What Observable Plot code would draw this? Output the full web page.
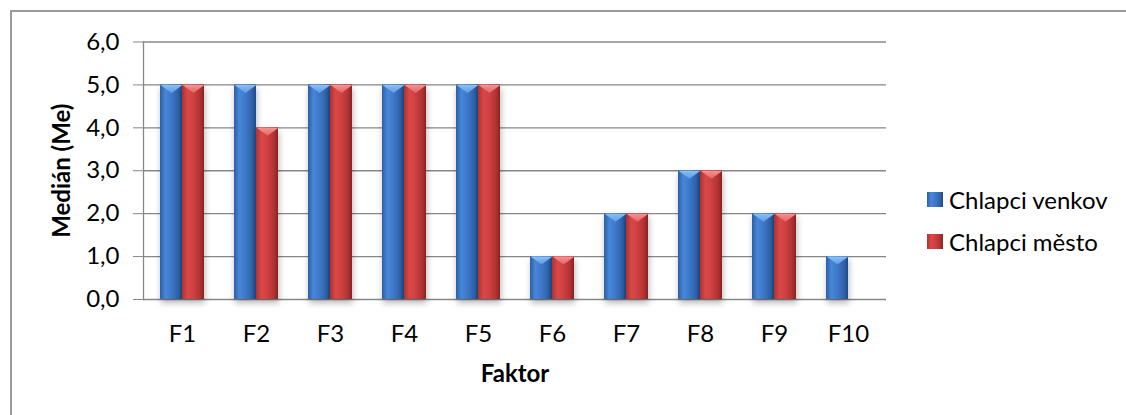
<!DOCTYPE html>
<html>
<head>
<meta charset="utf-8">
<script src="https://cdn.jsdelivr.net/npm/d3@7"></script>
<script src="https://cdn.jsdelivr.net/npm/@observablehq/plot@0.6"></script>
<style>
  html, body { margin: 0; padding: 0; background: #fff; overflow: hidden; }
  #wrap { position: relative; width: 1126px; height: 415px; font-family: Lato, "Open Sans", sans-serif; }
  #border { position: absolute; left: 10px; top: 10px; width: 1200px; height: 500px;
            border: 2px solid #9b9b9b; box-sizing: border-box; }
  #chart { position: absolute; left: 0; top: 0; }
  .key { position: absolute; left: 927px; display: flex; align-items: center;
         font-size: 24px; color: #000; white-space: nowrap; }
  .key svg { margin-right: 6px; }
</style>
</head>
<body>
<!-- shared gradients for bars, caps and legend swatches -->
<svg width="0" height="0" style="position:absolute">
  <defs>
    <linearGradient id="gBlue" x1="0" y1="0" x2="1" y2="0">
      <stop offset="0" stop-color="#2c5fa3"/>
      <stop offset="0.25" stop-color="#4786d8"/>
      <stop offset="0.5" stop-color="#3e79c9"/>
      <stop offset="0.82" stop-color="#2f63aa"/>
      <stop offset="1" stop-color="#1f4a85"/>
    </linearGradient>
    <linearGradient id="gRed" x1="0" y1="0" x2="1" y2="0">
      <stop offset="0" stop-color="#ad3131"/>
      <stop offset="0.25" stop-color="#d94848"/>
      <stop offset="0.5" stop-color="#cf4141"/>
      <stop offset="0.82" stop-color="#b13232"/>
      <stop offset="1" stop-color="#862323"/>
    </linearGradient>
    <linearGradient id="cBlue" x1="0" y1="0" x2="0" y2="1">
      <stop offset="0" stop-color="#8cc0f5"/>
      <stop offset="1" stop-color="#5d9be6"/>
    </linearGradient>
    <linearGradient id="cRed" x1="0" y1="0" x2="0" y2="1">
      <stop offset="0" stop-color="#f59393"/>
      <stop offset="1" stop-color="#e36262"/>
    </linearGradient>
  </defs>
</svg>
<div id="wrap">
  <div id="border"></div>
  <div id="chart"></div>
</div>
<script>
// Median score per factor, rural vs. urban boys
const factors = ["F1", "F2", "F3", "F4", "F5", "F6", "F7", "F8", "F9", "F10"];
const venkov  = [5, 5, 5, 5, 5, 1, 2, 3, 2, 1];
const mesto   = [5, 4, 5, 5, 5, 1, 2, 3, 2, null];
const series  = ["Chlapci venkov", "Chlapci město"];
const yTicks  = [0, 1, 2, 3, 4, 5, 6];

const rural = factors.map((f, i) => ({faktor: f, median: venkov[i]})).filter(d => d.median != null);
const urban = factors.map((f, i) => ({faktor: f, median: mesto[i]})).filter(d => d.median != null);

const comma = d => d.toFixed(1).replace(".", ",");

// flat downward wedge drawn at the top of each bar
const cap = {
  draw(ctx) {
    ctx.moveTo(-11, 0);
    ctx.lineTo(11, 0);
    ctx.lineTo(0, 8);
    ctx.closePath();
  }
};

const shadow = "drop-shadow(1px 4px 3px rgba(0,0,0,0.28))";

const chart = Plot.plot({
  width: 1126,
  height: 415,
  marginLeft: 143,
  marginRight: 240,
  marginTop: 41.5,
  marginBottom: 116,
  style: {fontFamily: "Lato, 'Open Sans', sans-serif", fontSize: "24px", color: "#000", background: "transparent"},
  x: {domain: factors, paddingInner: 0.408, paddingOuter: 0.204},
  y: {domain: [0, 6]},
  marks: [
    Plot.ruleY(yTicks, {stroke: "#878787", strokeWidth: 1.3}),
    Plot.frame({anchor: "left", stroke: "#878787", strokeWidth: 1.3}),
    Plot.axisY({ticks: yTicks, tickSize: 10, tickPadding: 14, tickFormat: comma, stroke: "#878787", label: null}),
    Plot.axisX({tickSize: 0, tickPadding: 25, label: null}),
    Plot.barY(rural, {x: "faktor", y: "median", insetLeft: 0, insetRight: 22, fill: "url(#gBlue)", imageFilter: shadow}),
    Plot.barY(urban, {x: "faktor", y: "median", insetLeft: 22, insetRight: 0, fill: "url(#gRed)", imageFilter: shadow}),
    Plot.dot(rural, {x: "faktor", y: "median", dx: -11, symbol: cap, r: 1, fill: "url(#cBlue)", stroke: "none"}),
    Plot.dot(urban, {x: "faktor", y: "median", dx: 11, symbol: cap, r: 1, fill: "url(#cRed)", stroke: "none"}),
    Plot.text(["Faktor"], {frameAnchor: "bottom", dy: 75, textAnchor: "middle", lineAnchor: "middle", fontWeight: "bold", fontSize: 24, fill: "#000"}),
    Plot.text(["Medián (Me)"], {frameAnchor: "left", dx: -81, rotate: -90, textAnchor: "middle", lineAnchor: "middle", fontWeight: "bold", fontSize: 24, fill: "#000"})
  ]
});
document.getElementById("chart").appendChild(chart);

// legend to the right of the plot
const wrap = document.getElementById("wrap");
const fills = ["url(#gBlue)", "url(#gRed)"];
const rowsY = [199, 241];
series.forEach((name, i) => {
  const k = document.createElement("div");
  k.className = "key";
  k.style.top = (rowsY[i] - 14) + "px";
  k.style.height = "28px";
  k.innerHTML = `<svg width="16" height="15"><rect width="16" height="15" fill="${fills[i]}"/></svg><span>${name}</span>`;
  wrap.appendChild(k);
});
</script>
</body>
</html>
